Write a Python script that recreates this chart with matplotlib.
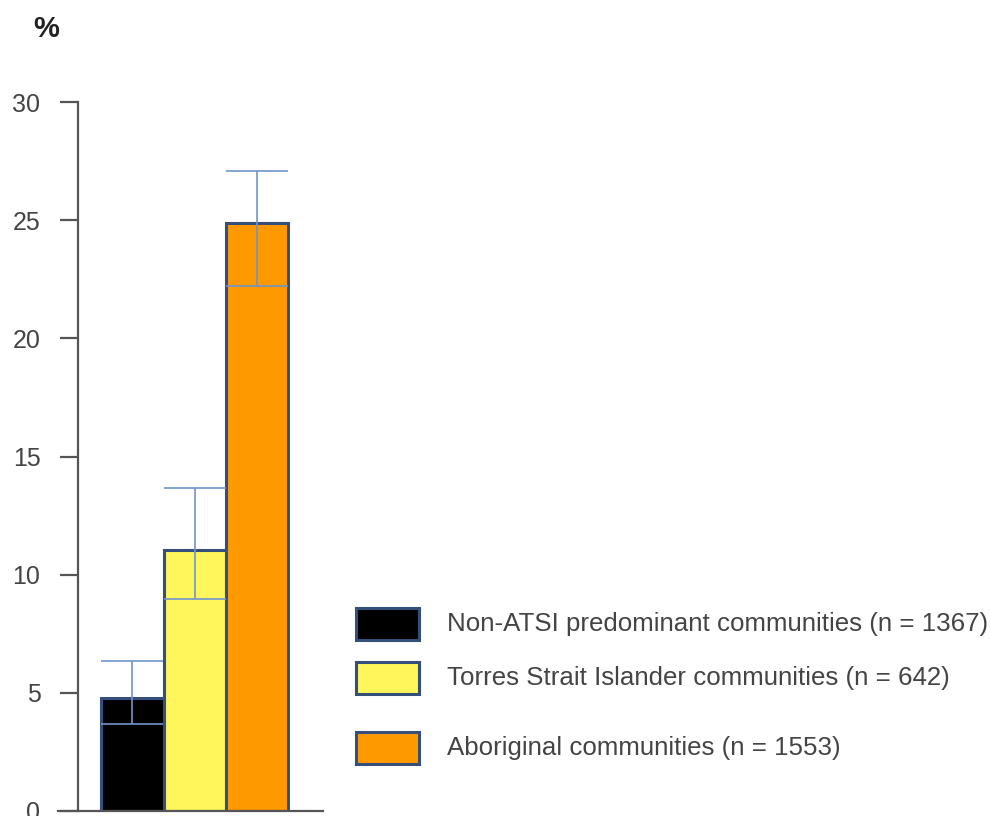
import matplotlib.pyplot as plt
from matplotlib.patches import Rectangle

plt.rcParams['font.family'] = ['Liberation Sans', 'DejaVu Sans']

# Prevalence by community type, with 95% confidence limits
groups = ['Non-ATSI predominant communities (n = 1367)',
          'Torres Strait Islander communities (n = 642)',
          'Aboriginal communities (n = 1553)']
values = [4.8, 11.05, 24.9]
ci_low = [3.7, 8.95, 22.2]
ci_high = [6.35, 13.65, 27.1]
colors = ['#000000', '#fff65c', '#ff9900']

edge = '#34507a'
err_color = '#6f95cc'
text_color = '#444444'

fig = plt.figure(figsize=(9.9, 8.16), dpi=100)
ax = fig.add_axes([58 / 990, 5 / 816, 265 / 990, 709 / 816])

x = list(range(len(values)))
ax.bar(x, values, width=1.0, color=colors, edgecolor=edge, linewidth=2.2, zorder=2)

lower = [v - lo for v, lo in zip(values, ci_low)]
upper = [hi - v for v, hi in zip(values, ci_high)]
ax.errorbar(x, values, yerr=[lower, upper], fmt='none', ecolor=err_color,
            elinewidth=1.2, capsize=22, capthick=1.2, zorder=3)

ax.set_xlim(-1.196, 3.06)
ax.set_ylim(0, 30)
ax.set_yticks([0, 5, 10, 15, 20, 25, 30])
ax.set_xticks([])

for side in ['top', 'right']:
    ax.spines[side].set_visible(False)
ax.spines['left'].set_position(('data', -0.875))
ax.spines['left'].set_color('#555555')
ax.spines['left'].set_linewidth(1.6)
ax.spines['bottom'].set_color('#555555')
ax.spines['bottom'].set_linewidth(1.6)
ax.tick_params(axis='y', direction='out', length=13, width=1.6, color='#555555',
               labelsize=18, labelcolor=text_color, pad=14)

fig.text(33 / 990, 1 - 29 / 816, '%', fontsize=21, color='#222222',
         fontweight='bold', va='center', ha='left')

# Legend boxes and labels
legend_y = [624, 678, 748]
for label, c, yc in zip(groups, colors, legend_y):
    fig.patches.append(Rectangle((356 / 990, 1 - (yc + 16) / 816), 63 / 990, 32 / 816,
                                 transform=fig.transFigure, facecolor=c,
                                 edgecolor=edge, linewidth=2.2))
    fig.text(447 / 990, 1 - yc / 816, label, fontsize=18.6, color=text_color,
             va='center', ha='left')

fig.savefig('out.png', dpi=100)
